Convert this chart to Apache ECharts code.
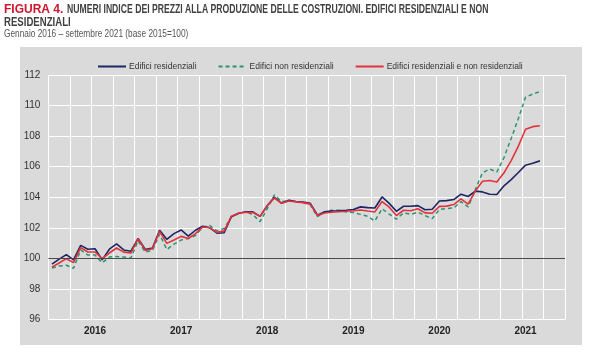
<!DOCTYPE html>
<html>
<head>
<meta charset="utf-8">
<script src="https://cdn.jsdelivr.net/npm/echarts@6/dist/echarts.min.js"></script>
<style>
  html, body { margin: 0; padding: 0; background: #fff; }
  #chart { width: 599px; height: 354px; }
</style>
</head>
<body>
<div id="chart"></div>
<script>
// mesi da gennaio 2016 a dicembre 2021 (gli ultimi tre senza dati)
const years = ['2016', '2017', '2018', '2019', '2020', '2021']
const months = []
years.forEach(y => {
  for (let m = 1; m <= 12; m++) months.push(y + '-' + (m < 10 ? '0' + m : m))
})

const residenziali = [
  99.62, 99.95, 100.25, 99.9, 100.85, 100.6, 100.63, 99.9, 100.6, 100.95, 100.55, 100.47,
  101.3, 100.58, 100.68, 101.84, 101.25, 101.62, 101.86, 101.45, 101.84, 102.1, 102.0, 101.65,
  101.68, 102.73, 102.95, 103.04, 103.04, 102.75, 103.45, 104.0, 103.6, 103.8, 103.72, 103.68,
  103.6, 102.82, 103.05, 103.1, 103.12, 103.15, 103.2, 103.37, 103.32, 103.3, 104.02, 103.6,
  103.08, 103.41, 103.41, 103.45, 103.18, 103.21, 103.75, 103.78, 103.85, 104.2, 104.05, 104.4,
  104.35, 104.2, 104.18, 104.75, 105.15, 105.62, 106.1, 106.22, 106.38
]
const nonResidenziali = [
  99.37, 99.5, 99.55, 99.35, 100.55, 100.22, 100.22, 99.7, 100.09, 100.12, 100.09, 100.02,
  101.15, 100.41, 100.52, 101.58, 100.58, 100.93, 101.2, 101.3, 101.5, 102.05, 102.15, 101.8,
  101.95, 102.72, 102.93, 103.08, 102.85, 102.4, 103.25, 104.15, 103.7, 103.8, 103.7, 103.65,
  103.5, 102.73, 103.04, 103.15, 103.15, 103.04, 103.0, 102.88, 102.75, 102.45, 103.25, 102.9,
  102.57, 102.98, 102.88, 103.02, 102.8, 102.6, 103.21, 103.26, 103.3, 103.72, 103.37, 104.5,
  105.6, 105.85, 105.65, 106.6, 107.85, 109.15, 110.55, 110.75, 110.92
]
const totale = [
  99.43, 99.7, 99.98, 99.72, 100.7, 100.42, 100.42, 99.98, 100.35, 100.68, 100.41, 100.35,
  101.29, 100.52, 100.63, 101.77, 100.98, 101.2, 101.44, 101.3, 101.62, 102.05, 102.0, 101.7,
  101.8, 102.75, 102.95, 103.02, 103.0, 102.75, 103.45, 103.95, 103.6, 103.75, 103.7, 103.65,
  103.55, 102.8, 102.97, 103.02, 103.05, 103.08, 103.12, 103.17, 103.1, 103.04, 103.72, 103.35,
  102.8, 103.15, 103.12, 103.25, 102.98, 102.95, 103.4, 103.42, 103.52, 103.9, 103.55, 104.4,
  105.05, 105.1, 105.0, 105.6, 106.4, 107.35, 108.45, 108.62, 108.68
]

const FONT = '"Liberation Sans", Arial, sans-serif'

const chart = echarts.init(document.getElementById('chart'), null, { renderer: 'canvas' })

// testo del titolo: il carattere originale e' condensato, si stringe con scaleX
const titleText = (x, y, sx, text, color, font) => ({
  type: 'text',
  x: x,
  y: y,
  scaleX: sx,
  style: { text: text, fill: color, font: font, verticalAlign: 'top' }
})

const option = {
  animation: false,
  backgroundColor: '#fff',
  textStyle: { fontFamily: FONT },
  graphic: [
    {
      type: 'rect',
      z: -10,
      shape: { x: 20, y: 47, width: 562, height: 298 },
      style: { fill: '#dadada' }
    },
    titleText(4, 4, 1, 'FIGURA 4.', '#d0142c', 'bold 12px ' + FONT),
    titleText(67, 4, 0.72, 'NUMERI INDICE DEI PREZZI ALLA PRODUZIONE DELLE COSTRUZIONI. EDIFICI RESIDENZIALI E NON', '#404040', 'bold 12px ' + FONT),
    titleText(4, 17, 0.8, 'RESIDENZIALI', '#404040', 'bold 12px ' + FONT),
    titleText(4, 29, 0.83, 'Gennaio 2016 – settembre 2021 (base 2015=100)', '#555', '10px ' + FONT)
  ],
  legend: {
    left: 92,
    top: 57,
    itemWidth: 28,
    itemHeight: 10,
    itemGap: 21,
    itemStyle: { opacity: 0 },
    textStyle: { fontSize: 8.5, color: '#333', fontFamily: FONT, padding: [0, 0, 0, -2] }
  },
  grid: {
    left: 48.4,
    right: 34,
    top: 75,
    bottom: 34.5
  },
  xAxis: {
    type: 'category',
    data: months,
    boundaryGap: true,
    axisLine: { show: false },
    axisTick: { show: false },
    axisLabel: {
      interval: (i) => i % 12 === 6,
      formatter: (v) => v.slice(0, 4),
      fontSize: 10,
      fontWeight: 'bold',
      color: '#222',
      margin: 7
    },
    splitLine: { show: true, interval: 2, lineStyle: { color: '#fff', width: 1 } }
  },
  yAxis: {
    type: 'value',
    min: 96,
    max: 112,
    interval: 2,
    axisLine: { show: false },
    axisTick: { show: false },
    axisLabel: { fontSize: 10, color: '#333', margin: 8 },
    splitLine: { lineStyle: { color: '#fff', width: 1 } }
  },
  series: [{
    name: 'Edifici residenziali',
    type: 'line',
    data: residenziali,
    symbol: 'none',
    lineStyle: { color: '#1c2566', width: 1.6 },
    itemStyle: { color: '#1c2566' },
    z: 3,
    markLine: {
      silent: true,
      symbol: 'none',
      label: { show: false },
      lineStyle: { color: '#4a4a4a', width: 1, type: 'solid' },
      data: [{ yAxis: 100 }]
    }
  }, {
    name: 'Edifici non residenziali',
    type: 'line',
    data: nonResidenziali,
    symbol: 'none',
    lineStyle: { color: '#2a9470', width: 1.5, type: [4, 3] },
    itemStyle: { color: '#2a9470' },
    z: 2
  }, {
    name: 'Edifici residenziali e non residenziali',
    type: 'line',
    data: totale,
    symbol: 'none',
    lineStyle: { color: '#e4323c', width: 1.6 },
    itemStyle: { color: '#e4323c' },
    z: 4
  }]
}

chart.setOption(option)
</script>
</body>
</html>
